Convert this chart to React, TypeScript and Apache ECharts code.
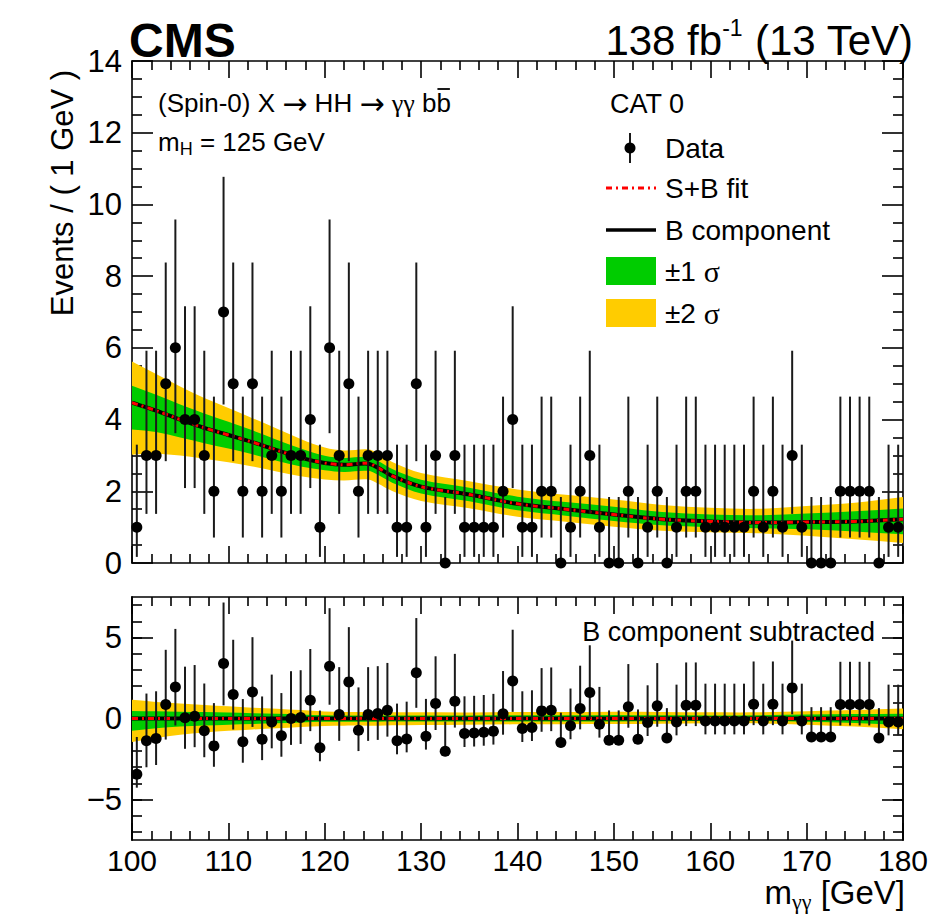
import React, { useEffect, useRef } from "react";
import * as echarts from "echarts";

const FONT = "'Liberation Sans', Arial, Helvetica, sans-serif";
const SERIF = "'Liberation Serif', 'DejaVu Serif', serif";
const ARROW_FONT = "'DejaVu Sans', sans-serif";

// Bin centres (1 GeV bins, 100-180 GeV)
const BIN_CENTERS = [
  100.5, 101.5, 102.5, 103.5, 104.5, 105.5, 106.5, 107.5, 108.5, 109.5,
  110.5, 111.5, 112.5, 113.5, 114.5, 115.5, 116.5, 117.5, 118.5, 119.5,
  120.5, 121.5, 122.5, 123.5, 124.5, 125.5, 126.5, 127.5, 128.5, 129.5,
  130.5, 131.5, 132.5, 133.5, 134.5, 135.5, 136.5, 137.5, 138.5, 139.5,
  140.5, 141.5, 142.5, 143.5, 144.5, 145.5, 146.5, 147.5, 148.5, 149.5,
  150.5, 151.5, 152.5, 153.5, 154.5, 155.5, 156.5, 157.5, 158.5, 159.5,
  160.5, 161.5, 162.5, 163.5, 164.5, 165.5, 166.5, 167.5, 168.5, 169.5,
  170.5, 171.5, 172.5, 173.5, 174.5, 175.5, 176.5, 177.5, 178.5, 179.5,
];

// Observed events per bin
const COUNTS = [
  1, 3, 3, 5, 6, 4, 4, 3, 2, 7,
  5, 2, 5, 2, 3, 2, 3, 3, 4, 1,
  6, 3, 5, 2, 3, 3, 3, 1, 1, 5,
  1, 3, 0, 3, 1, 1, 1, 1, 2, 4,
  1, 1, 2, 2, 0, 1, 2, 3, 1, 0,
  0, 2, 0, 1, 2, 0, 1, 2, 2, 1,
  1, 1, 1, 1, 2, 1, 2, 1, 3, 1,
  0, 0, 0, 2, 2, 2, 2, 0, 1, 1,
];

// B component subtracted (lower panel)
const RESIDUALS = [
  -3.44, -1.38, -1.24, 0.86, 1.95, 0.04, 0.14, -0.76, -1.69, 3.39,
  1.48, -1.44, 1.64, -1.28, -0.21, -1.07, 0.0, 0.06, 1.13, -1.81,
  3.23, 0.25, 2.26, -0.72, 0.25, 0.31, 0.51, -1.38, -1.26, 2.82,
  -1.09, 0.92, -2.02, 1.07, -0.93, -0.9, -0.85, -0.78, 0.29, 2.32,
  -0.62, -0.56, 0.47, 0.51, -1.48, -0.45, 0.62, 1.6, -0.35, -1.34,
  -1.34, 0.72, -1.28, -0.25, 0.78, -1.2, -0.21, 0.82, 0.82, -0.15,
  -0.15, -0.15, -0.15, -0.15, 0.88, -0.15, 0.88, -0.15, 1.89, -0.15,
  -1.14, -1.14, -1.14, 0.86, 0.86, 0.86, 0.86, -1.2, -0.21, -0.21,
];

// Poisson interval edges for n = 0..7 (as drawn)
const POISSON_LOW = [0, 0.17, 0.71, 1.37, 2.09, 2.84, 3.62, 4.42];
const POISSON_HIGH = [1.84, 3.3, 4.64, 5.92, 7.16, 8.38, 9.58, 10.77];

// Fit curves and uncertainty bands
const FIT_X = [100, 102.5, 105, 107.5, 110, 112.5, 115, 117.5, 120, 122, 124.5, 125.5, 127, 130, 135, 140, 145, 150, 155, 160, 165, 170, 175, 180];
const B_FIT = [4.47, 4.25, 4.0, 3.77, 3.57, 3.37, 3.15, 2.94, 2.79, 2.74, 2.77, 2.66, 2.43, 2.13, 1.91, 1.65, 1.5, 1.35, 1.22, 1.16, 1.13, 1.14, 1.16, 1.22];
const SB_FIT = [4.47, 4.25, 4.0, 3.77, 3.57, 3.37, 3.15, 2.94, 2.79, 2.74, 2.78, 2.66, 2.43, 2.13, 1.91, 1.65, 1.5, 1.35, 1.22, 1.16, 1.13, 1.14, 1.16, 1.22];
const UP1 = [0.47, 0.44, 0.42, 0.4, 0.37, 0.33, 0.29, 0.25, 0.2, 0.19, 0.19, 0.19, 0.19, 0.19, 0.19, 0.2, 0.2, 0.22, 0.2, 0.19, 0.2, 0.24, 0.28, 0.3];
const DN1 = [0.75, 0.6, 0.5, 0.43, 0.38, 0.34, 0.3, 0.25, 0.2, 0.2, 0.2, 0.2, 0.19, 0.19, 0.19, 0.18, 0.18, 0.18, 0.17, 0.16, 0.16, 0.2, 0.28, 0.42];
const UP2 = [1.15, 1.02, 0.92, 0.83, 0.75, 0.67, 0.6, 0.52, 0.43, 0.4, 0.4, 0.4, 0.39, 0.38, 0.37, 0.4, 0.4, 0.42, 0.4, 0.38, 0.38, 0.45, 0.52, 0.62];
const DN2 = [1.45, 1.2, 1.0, 0.86, 0.76, 0.68, 0.6, 0.52, 0.46, 0.44, 0.44, 0.44, 0.42, 0.4, 0.38, 0.36, 0.35, 0.34, 0.32, 0.3, 0.3, 0.38, 0.5, 0.66];

const Y_TOP_TICKS = { min: 0, max: 14, interval: 2 };
const Y_BOT_MAJOR = [-5, 0, 5];
const Y_BOT_MINOR = [-7, -6, -5, -4, -3, -2, -1, 0, 1, 2, 3, 4, 5, 6, 7];

const GREEN = "#00cc00";
const YELLOW = "#ffcc00";

// smooth path (cubic Hermite through pixel points)
function hermite(pts: number[][], move: boolean) {
  const n = pts.length;
  const m: number[] = [];
  for (let i = 0; i < n; i++) {
    const a = pts[Math.max(i - 1, 0)];
    const b = pts[Math.min(i + 1, n - 1)];
    m.push((b[1] - a[1]) / (b[0] - a[0]));
  }
  let d = (move ? "M" : "L") + pts[0][0] + " " + pts[0][1];
  for (let i = 0; i < n - 1; i++) {
    const h = (pts[i + 1][0] - pts[i][0]) / 3;
    d +=
      " C" + (pts[i][0] + h) + " " + (pts[i][1] + m[i] * h) + " " +
      (pts[i + 1][0] - h) + " " + (pts[i + 1][1] - m[i + 1] * h) + " " +
      pts[i + 1][0] + " " + pts[i + 1][1];
  }
  return d;
}

export default function App() {
  const ref = useRef<HTMLDivElement>(null);

  useEffect(() => {
    const el = ref.current!;
    const chart = echarts.init(el, undefined, { renderer: "svg" });

    const ctx = document.createElement("canvas").getContext("2d")!;
    const measure = (t: string, size: number, fam: string) => {
      ctx.font = `${size}px ${fam}`;
      return ctx.measureText(t).width;
    };

    const lineCol = { color: "#000", width: 1.6 };
    const xAx = (grid: number, pos: "top" | "bottom", labels: boolean) => ({
      type: "value",
      gridIndex: grid,
      position: pos,
      min: 100,
      max: 180,
      interval: 10,
      axisLine: { show: true, onZero: false, lineStyle: lineCol },
      axisTick: { show: true, inside: true, length: 17, lineStyle: lineCol },
      minorTick: { show: true, splitNumber: 5, length: 9, lineStyle: lineCol },
      splitLine: { show: false },
      minorSplitLine: { show: false },
      axisLabel: { show: labels, fontSize: 30, fontFamily: FONT, color: "#000", margin: 5 },
    });

    const yTop = (pos: "left" | "right", labels: boolean) => ({
      type: "value",
      gridIndex: 0,
      position: pos,
      ...Y_TOP_TICKS,
      axisLine: { show: true, onZero: false, lineStyle: lineCol },
      axisTick: { show: true, inside: true, length: 21, lineStyle: lineCol },
      minorTick: { show: true, splitNumber: 4, length: 10, lineStyle: lineCol },
      splitLine: { show: false },
      minorSplitLine: { show: false },
      axisLabel: { show: labels, fontSize: 31, fontFamily: FONT, color: "#000", margin: 10 },
    });

    const yBot = (pos: "left" | "right", major: boolean, labels: boolean) => ({
      type: "value",
      gridIndex: 1,
      position: pos,
      min: -7.5,
      max: 7.5,
      axisLine: { show: true, onZero: false, lineStyle: lineCol },
      axisTick: {
        show: true,
        inside: true,
        length: major ? 21 : 10,
        customValues: major ? Y_BOT_MAJOR : Y_BOT_MINOR,
        lineStyle: lineCol,
      },
      splitLine: { show: false },
      axisLabel: {
        show: labels,
        customValues: Y_BOT_MAJOR,
        fontSize: 31,
        fontFamily: FONT,
        color: "#000",
        margin: 10,
        formatter: (v: number) => (v < 0 ? "\u2212" + Math.abs(v) : String(v)),
      },
    });

    const band = (xi: number, yi: number, lower: number[], upper: number[], color: string, z: number) => ({
      type: "custom",
      xAxisIndex: xi,
      yAxisIndex: yi,
      data: [[FIT_X[0], lower[0]]],
      silent: true,
      clip: true,
      z,
      renderItem: (_p: any, api: any) => {
        const up = FIT_X.map((x, i) => api.coord([x, upper[i]]));
        const loRev = FIT_X.map((x, i) => api.coord([x, lower[i]])).reverse();
        return {
          type: "path",
          shape: { pathData: hermite(up, true) + " " + hermite(loRev, false) + " Z" },
          style: { fill: color, stroke: "none" },
        };
      },
    });

    const curve = (xi: number, yi: number, ys: number[], style: any, z: number) => ({
      type: "custom",
      xAxisIndex: xi,
      yAxisIndex: yi,
      data: [[FIT_X[0], ys[0]]],
      silent: true,
      clip: true,
      z,
      renderItem: (_p: any, api: any) => {
        const pts = FIT_X.map((x, i) => api.coord([x, ys[i]]));
        return {
          type: "path",
          shape: { pathData: hermite(pts, true) },
          style: { fill: "none", ...style },
        };
      },
    });

    const errBars = (xi: number, yi: number, data: number[][]) => ({
      type: "custom",
      xAxisIndex: xi,
      yAxisIndex: yi,
      data,
      encode: { x: 0, y: [1, 2] },
      silent: true,
      z: 6,
      renderItem: (_p: any, api: any) => {
        const a = api.coord([api.value(0), api.value(1)]);
        const b = api.coord([api.value(0), api.value(2)]);
        return {
          type: "line",
          shape: { x1: a[0], y1: a[1], x2: b[0], y2: b[1] },
          style: { stroke: "#1a1a1a", lineWidth: 2 },
        };
      },
    });

    const points = (xi: number, yi: number, data: number[][]) => ({
      type: "scatter",
      xAxisIndex: xi,
      yAxisIndex: yi,
      data,
      symbol: "circle",
      symbolSize: 11,
      itemStyle: { color: "#000", opacity: 1 },
      clip: false,
      silent: true,
      z: 7,
    });

    const zeros = FIT_X.map(() => 0);
    const bLine = { stroke: "#000", lineWidth: 4 };
    const sbLine = { stroke: "#ff0000", lineWidth: 3, lineDash: [6, 4, 2, 4] };

    const topHi2 = B_FIT.map((b, i) => b + UP2[i]);
    const topLo2 = B_FIT.map((b, i) => b - DN2[i]);
    const topHi1 = B_FIT.map((b, i) => b + UP1[i]);
    const topLo1 = B_FIT.map((b, i) => b - DN1[i]);
    const botLo2 = DN2.map((d) => -d);
    const botLo1 = DN1.map((d) => -d);
    const sbMinusB = SB_FIT.map((s, i) => s - B_FIT[i]);

    const topErr = BIN_CENTERS.map((x, i) => [x, POISSON_LOW[COUNTS[i]], POISSON_HIGH[COUNTS[i]]]);
    const botErr = BIN_CENTERS.map((x, i) => {
      const n = COUNTS[i];
      return [x, RESIDUALS[i] - (n - POISSON_LOW[n]), RESIDUALS[i] + (POISSON_HIGH[n] - n)];
    });

    // process label pieces, with overline over last b
    const procSize = 26;
    const arrowSize = 30;
    const procX = 158;
    const procY = 103;
    const pieces: [string, string, string, number][] = [
      ["(Spin-0) X ", "a", "'Liberation Sans'", procSize],
      ["\u2192", "r", "'DejaVu Sans'", arrowSize],
      [" HH ", "a", "'Liberation Sans'", procSize],
      ["\u2192", "r", "'DejaVu Sans'", arrowSize],
      [" ", "a", "'Liberation Sans'", procSize],
      ["\u03b3\u03b3", "g", "'Liberation Serif'", procSize],
      [" b", "a", "'Liberation Sans'", procSize],
      ["b", "a", "'Liberation Sans'", procSize],
    ];
    let procW = 0;
    for (let i = 0; i < pieces.length - 1; i++) procW += measure(pieces[i][0], pieces[i][3], pieces[i][2]);
    const lastBW = measure("b", procSize, "'Liberation Sans'");
    const barX1 = procX + procW + 1;
    const barX2 = procX + procW + lastBW - 1;
    const procText = pieces.map((p) => `{${p[1]}|${p[0]}}`).join("");

    // m_gg axis title pieces (right-aligned at 905)
    const tSize = 33;
    const tY = 892;
    const mW = measure("m", tSize, "'Liberation Sans'");
    const ggW = measure("\u03b3\u03b3", 22, "'Liberation Serif'");
    const gevW = measure(" [GeV]", tSize, "'Liberation Sans'");
    const tX0 = 905 - (mW + ggW + gevW);

    const txt = (x: number, y: number, text: string, size: number, extra: any = {}) => ({
      type: "text",
      x,
      y,
      silent: true,
      z: 20,
      style: {
        text,
        fontSize: size,
        fontFamily: FONT,
        fill: "#000",
        textAlign: "left",
        align: "left",
        textVerticalAlign: "middle",
        verticalAlign: "middle",
        ...extra,
      },
    });

    const option: any = {
      animation: false,
      backgroundColor: "#fff",
      grid: [
        { left: 132, top: 61, width: 771, height: 502 },
        { left: 132, top: 597, width: 771, height: 243 },
      ],
      xAxis: [xAx(0, "bottom", false), xAx(0, "top", false), xAx(1, "bottom", true), xAx(1, "top", false)],
      yAxis: [
        yTop("left", true),
        yTop("right", false),
        yBot("left", true, true),
        yBot("left", false, false),
        yBot("right", true, false),
        yBot("right", false, false),
      ],
      series: [
        band(0, 0, topLo2, topHi2, YELLOW, 1),
        band(0, 0, topLo1, topHi1, GREEN, 2),
        curve(0, 0, B_FIT, bLine, 3),
        curve(0, 0, SB_FIT, sbLine, 4),
        errBars(0, 0, topErr),
        points(0, 0, BIN_CENTERS.map((x, i) => [x, COUNTS[i]])),
        band(2, 2, botLo2, UP2, YELLOW, 1),
        band(2, 2, botLo1, UP1, GREEN, 2),
        curve(2, 2, zeros, bLine, 3),
        curve(2, 2, sbMinusB, sbLine, 4),
        errBars(2, 2, botErr),
        points(2, 2, BIN_CENTERS.map((x, i) => [x, RESIDUALS[i]])),
      ],
      graphic: [
        txt(129, 40, "CMS", 48, { fontWeight: "bold" }),
        txt(913, 40, "{a|138 fb}{s|-1}{a| (13 TeV)}", 42, {
          textAlign: "right",
          align: "right",
          rich: {
            a: { fontSize: 42, fontFamily: FONT, lineHeight: 47 },
            s: { fontSize: 23, fontFamily: FONT, lineHeight: 23, verticalAlign: "top" },
          },
        }),
        txt(procX, procY, procText, procSize, {
          rich: {
            a: { fontSize: procSize, fontFamily: FONT },
            r: { fontSize: arrowSize, fontFamily: ARROW_FONT },
            g: { fontSize: procSize, fontFamily: SERIF },
          },
        }),
        {
          type: "line",
          silent: true,
          z: 20,
          shape: { x1: barX1, y1: procY - 14, x2: barX2, y2: procY - 14 },
          style: { stroke: "#000", lineWidth: 1.8 },
        },
        txt(158, 142, "{a|m}{s|H}{a| = 125 GeV}", 26, {
          rich: {
            a: { fontSize: 26, fontFamily: FONT, lineHeight: 32 },
            s: { fontSize: 18, fontFamily: FONT, lineHeight: 18, verticalAlign: "bottom" },
          },
        }),
        txt(610, 104, "CAT 0", 27),
        {
          type: "line",
          silent: true,
          z: 20,
          shape: { x1: 630, y1: 133, x2: 630, y2: 163 },
          style: { stroke: "#1a1a1a", lineWidth: 2 },
        },
        { type: "circle", silent: true, z: 20, shape: { cx: 630, cy: 148, r: 5.5 }, style: { fill: "#000" } },
        txt(665, 148, "Data", 28),
        {
          type: "line",
          silent: true,
          z: 20,
          shape: { x1: 606, y1: 188, x2: 656, y2: 188 },
          style: { stroke: "#ff0000", lineWidth: 3, lineDash: [6, 4, 2, 4] },
        },
        txt(665, 188, "S+B fit", 28),
        {
          type: "line",
          silent: true,
          z: 20,
          shape: { x1: 606, y1: 230, x2: 656, y2: 230 },
          style: { stroke: "#000", lineWidth: 3.5 },
        },
        txt(665, 230, "B component", 28),
        { type: "rect", silent: true, z: 20, shape: { x: 606, y: 257, width: 50, height: 28 }, style: { fill: GREEN } },
        txt(665, 271, "{a|\u00b11 }{g|\u03c3}", 28, {
          rich: { a: { fontSize: 28, fontFamily: FONT }, g: { fontSize: 30, fontFamily: SERIF } },
        }),
        { type: "rect", silent: true, z: 20, shape: { x: 606, y: 299, width: 50, height: 28 }, style: { fill: YELLOW } },
        txt(665, 313, "{a|\u00b12 }{g|\u03c3}", 28, {
          rich: { a: { fontSize: 28, fontFamily: FONT }, g: { fontSize: 30, fontFamily: SERIF } },
        }),
        txt(875, 632, "B component subtracted", 27, { textAlign: "right", align: "right" }),
        {
          type: "text",
          x: 62,
          y: 193,
          rotation: Math.PI / 2,
          silent: true,
          z: 20,
          style: {
            text: "Events / ( 1 GeV )",
            fontSize: 31,
            fontFamily: FONT,
            fill: "#000",
            textAlign: "center",
            align: "center",
            textVerticalAlign: "middle",
            verticalAlign: "middle",
          },
        },
        txt(tX0, tY, "m", tSize),
        txt(tX0 + mW, tY + 9, "\u03b3\u03b3", 22, { fontFamily: SERIF }),
        txt(tX0 + mW + ggW, tY, " [GeV]", tSize),
      ],
    };

    chart.setOption(option);
    return () => chart.dispose();
  }, []);

  return (
    <div
      ref={ref}
      style={{ position: "fixed", left: 0, top: 0, width: 932, height: 918, background: "#fff" }}
    />
  );
}
